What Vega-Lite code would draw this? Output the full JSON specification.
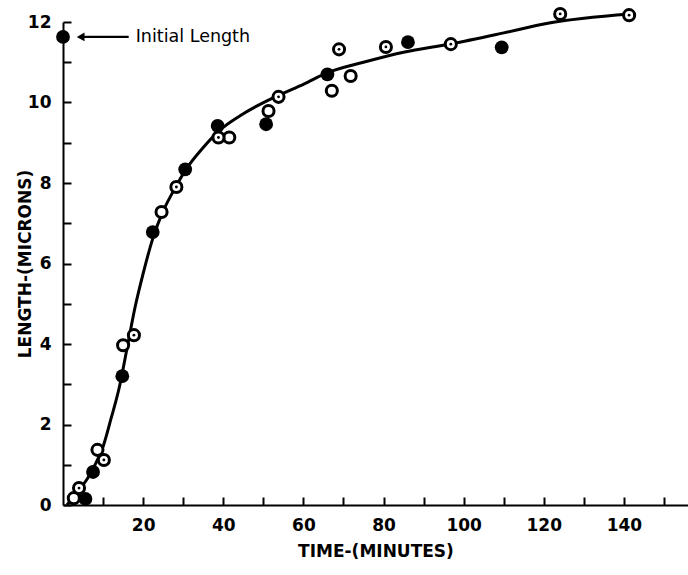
{
  "$schema": "https://vega.github.io/schema/vega-lite/v6.json",
  "width": 625,
  "height": 483,
  "autosize": {"type": "none"},
  "padding": {"left": 63, "top": 22, "right": 0, "bottom": 70},
  "background": "white",
  "config": {
    "view": {"stroke": null},
    "font": "DejaVu Sans",
    "axis": {
      "domainColor": "black",
      "domainWidth": 2,
      "tickColor": "black",
      "tickWidth": 2,
      "tickSize": -8,
      "grid": false,
      "labelFont": "DejaVu Sans",
      "labelFontSize": 17,
      "labelFontWeight": "bold",
      "labelColor": "black",
      "titleFont": "DejaVu Sans",
      "titleFontSize": 17,
      "titleFontWeight": "bold",
      "titleColor": "black",
      "labelPadding": 20
    }
  },
  "data": {
    "values": [
      {"series": "curve", "x": 1.0, "y": 0.0},
      {"series": "curve", "x": 4.0, "y": 0.38},
      {"series": "curve", "x": 6.0, "y": 0.64},
      {"series": "curve", "x": 8.0, "y": 1.0},
      {"series": "curve", "x": 10.0, "y": 1.45},
      {"series": "curve", "x": 12.0, "y": 2.15},
      {"series": "curve", "x": 14.0, "y": 2.9},
      {"series": "curve", "x": 16.0, "y": 3.9},
      {"series": "curve", "x": 18.0, "y": 4.92},
      {"series": "curve", "x": 20.0, "y": 5.75},
      {"series": "curve", "x": 22.5, "y": 6.65},
      {"series": "curve", "x": 25.0, "y": 7.3},
      {"series": "curve", "x": 28.0, "y": 7.88},
      {"series": "curve", "x": 31.0, "y": 8.38},
      {"series": "curve", "x": 35.0, "y": 8.88},
      {"series": "curve", "x": 39.0, "y": 9.3},
      {"series": "curve", "x": 45.0, "y": 9.72},
      {"series": "curve", "x": 54.0, "y": 10.19},
      {"series": "curve", "x": 60.0, "y": 10.45},
      {"series": "curve", "x": 66.0, "y": 10.74},
      {"series": "curve", "x": 75.0, "y": 11.0},
      {"series": "curve", "x": 85.0, "y": 11.25},
      {"series": "curve", "x": 97.0, "y": 11.46},
      {"series": "curve", "x": 110.0, "y": 11.73},
      {"series": "curve", "x": 121.0, "y": 11.97},
      {"series": "curve", "x": 141.5, "y": 12.2},
      {"series": "filled", "x": 0.0, "y": 11.63},
      {"series": "filled", "x": 5.6, "y": 0.15},
      {"series": "filled", "x": 7.5, "y": 0.82},
      {"series": "filled", "x": 14.8, "y": 3.2},
      {"series": "filled", "x": 22.4, "y": 6.78},
      {"series": "filled", "x": 30.5, "y": 8.34},
      {"series": "filled", "x": 38.6, "y": 9.42},
      {"series": "filled", "x": 50.7, "y": 9.46},
      {"series": "filled", "x": 66.0, "y": 10.7},
      {"series": "filled", "x": 86.1, "y": 11.5},
      {"series": "filled", "x": 109.5, "y": 11.37},
      {"series": "open", "x": 2.7, "y": 0.17},
      {"series": "open", "x": 8.6, "y": 1.37},
      {"series": "open", "x": 15.0, "y": 3.97},
      {"series": "open", "x": 24.6, "y": 7.28},
      {"series": "open", "x": 41.5, "y": 9.13},
      {"series": "open", "x": 51.3, "y": 9.79},
      {"series": "open", "x": 67.1, "y": 10.29},
      {"series": "open", "x": 71.8, "y": 10.66},
      {"series": "dotted", "x": 4.0, "y": 0.42},
      {"series": "dotted", "x": 10.2, "y": 1.12},
      {"series": "dotted", "x": 17.7, "y": 4.22},
      {"series": "dotted", "x": 28.3, "y": 7.9},
      {"series": "dotted", "x": 38.8, "y": 9.13},
      {"series": "dotted", "x": 53.8, "y": 10.14},
      {"series": "dotted", "x": 68.9, "y": 11.32},
      {"series": "dotted", "x": 80.6, "y": 11.38},
      {"series": "dotted", "x": 96.8, "y": 11.45},
      {"series": "dotted", "x": 124.1, "y": 12.2},
      {"series": "dotted", "x": 141.3, "y": 12.17},
      {"series": "annot", "x": 4.4, "x2": 16.4, "y": 11.63, "label": "Initial Length"}
    ]
  },
  "encoding": {
    "x": {
      "field": "x",
      "type": "quantitative",
      "scale": {"domain": [0, 156], "nice": false, "zero": false},
      "axis": {
        "title": "TIME-(MINUTES)",
        "values": [10, 20, 30, 40, 50, 60, 70, 80, 90, 100, 110, 120, 130, 140, 150],
        "labelExpr": "datum.value % 20 == 0 ? datum.label : ''",
        "titlePadding": 10
      }
    },
    "y": {
      "field": "y",
      "type": "quantitative",
      "scale": {"domain": [0, 12], "nice": false, "zero": false},
      "axis": {
        "title": "LENGTH-(MICRONS)",
        "values": [0, 1, 2, 3, 4, 5, 6, 7, 8, 9, 10, 11, 12],
        "labelExpr": "datum.value % 2 == 0 ? datum.label : ''",
        "titlePadding": -7
      }
    }
  },
  "layer": [
    {
      "transform": [{"filter": "datum.series == 'curve'"}],
      "mark": {"type": "line", "interpolate": "monotone", "color": "black", "strokeWidth": 3}
    },
    {
      "transform": [{"filter": "datum.series == 'filled'"}],
      "mark": {"type": "circle", "color": "black", "opacity": 1, "size": 190}
    },
    {
      "transform": [{"filter": "datum.series == 'open' || datum.series == 'dotted'"}],
      "mark": {"type": "circle", "fill": "white", "stroke": "black", "strokeWidth": 3, "opacity": 1, "size": 123}
    },
    {
      "transform": [{"filter": "datum.series == 'dotted'"}],
      "mark": {"type": "circle", "color": "black", "opacity": 1, "size": 8}
    },
    {
      "transform": [{"filter": "datum.series == 'annot'"}],
      "mark": {"type": "rule", "color": "black", "strokeWidth": 2.2},
      "encoding": {"x2": {"field": "x2"}}
    },
    {
      "transform": [{"filter": "datum.series == 'annot'"}],
      "mark": {"type": "point", "shape": "triangle-left", "filled": true, "color": "black", "opacity": 1, "size": 80},
      "encoding": {"x": {"field": "x", "type": "quantitative"}}
    },
    {
      "transform": [{"filter": "datum.series == 'annot'"}],
      "mark": {"type": "text", "align": "left", "baseline": "middle", "font": "DejaVu Sans", "fontSize": 17.5, "color": "black", "dx": 7},
      "encoding": {"x": {"field": "x2", "type": "quantitative"}, "text": {"field": "label"}}
    }
  ]
}
